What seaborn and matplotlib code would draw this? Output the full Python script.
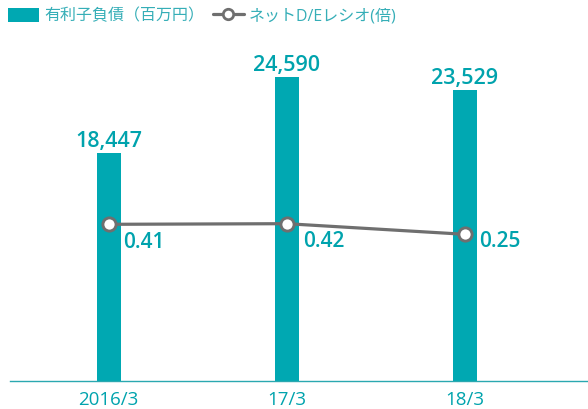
import numpy as np
import matplotlib
matplotlib.use("Agg")
import matplotlib.pyplot as plt
from matplotlib.patches import Patch
from matplotlib.lines import Line2D
import seaborn as sns

# Data
periods = ["2016/3", "17/3", "18/3"]
debt = [18447, 24590, 23529]          # 有利子負債（百万円）
de_ratio = [0.41, 0.42, 0.25]         # ネットD/Eレシオ(倍)
debt_labels = ["18,447", "24,590", "23,529"]
ratio_labels = ["0.41", "0.42", "0.25"]
legend_labels = ["有利子負債（百万円）", "ネットD/Eレシオ(倍)"]

BAR = "#00a8b2"
TEXT = "#00a3ad"
LEGEND_TEXT = "#35aeb7"
LINE = "#6f6f6f"

sns.set_theme(style="white")
plt.rcParams["font.family"] = ["Open Sans", "Noto Sans CJK JP", "DejaVu Sans"]

W, H = 588, 409
fig = plt.figure(figsize=(W / 100, H / 100), dpi=100)
ax = fig.add_axes([10 / W, (H - 381) / H, 578 / W, 336 / H])

pos = np.arange(len(periods))
sns.barplot(x=pos, y=debt, ax=ax, color=BAR, saturation=1, width=0.135,
            edgecolor="none", native_scale=True)
ax.set_xlim(-0.553, 2.690)
ax.set_ylim(0, 27150)

for x, v, lab in zip(pos, debt, debt_labels):
    ax.annotate(lab, (x, v), xytext=(0, 4.2), textcoords="offset points",
                ha="center", va="baseline", color=TEXT, fontsize=15.5,
                fontweight="semibold")

ax2 = ax.twinx()
sns.lineplot(x=pos, y=de_ratio, ax=ax2, color=LINE, linewidth=2.3,
             marker="o", markersize=9.5, markerfacecolor="white",
             markeredgecolor=LINE, markeredgewidth=2.1)
ax2.set_ylim(-2.097, 3.279)
ax2.set_xlim(-0.553, 2.690)

label_offsets = [(10.5, -17.0), (11.5, -17.0), (10.0, -9.2)]
for x, v, lab, off in zip(pos, de_ratio, ratio_labels, label_offsets):
    ax2.annotate(lab, (x, v), xytext=off, textcoords="offset points",
                 ha="left", va="baseline", color=TEXT, fontsize=15,
                 fontweight="semibold")

for a in (ax, ax2):
    for side in ("top", "left", "right"):
        a.spines[side].set_visible(False)
    a.set_ylabel("")
    a.set_yticks([])
ax2.spines["bottom"].set_visible(False)
ax.spines["bottom"].set_color("#2aa8b0")
ax.spines["bottom"].set_linewidth(1.0)

ax.set_xticks(pos)
ax.set_xticklabels(periods)
ax.tick_params(axis="x", length=0, pad=7.5, labelsize=13.5, labelcolor=TEXT)

handles = [
    Patch(facecolor=BAR, edgecolor="none"),
    Line2D([], [], color=LINE, linewidth=2.3, marker="o", markersize=7.5,
           markerfacecolor="white", markeredgecolor=LINE, markeredgewidth=2),
]
leg = fig.legend(handles, legend_labels, loc="upper left",
                 bbox_to_anchor=(8 / W, 1 - 8 / H), ncol=2, frameon=False,
                 fontsize=11.5, handlelength=1.95, handleheight=0.95,
                 handletextpad=0.3, columnspacing=0.55, borderpad=0,
                 borderaxespad=0)
for t in leg.get_texts():
    t.set_color(LEGEND_TEXT)

fig.savefig("out.png", dpi=100)
